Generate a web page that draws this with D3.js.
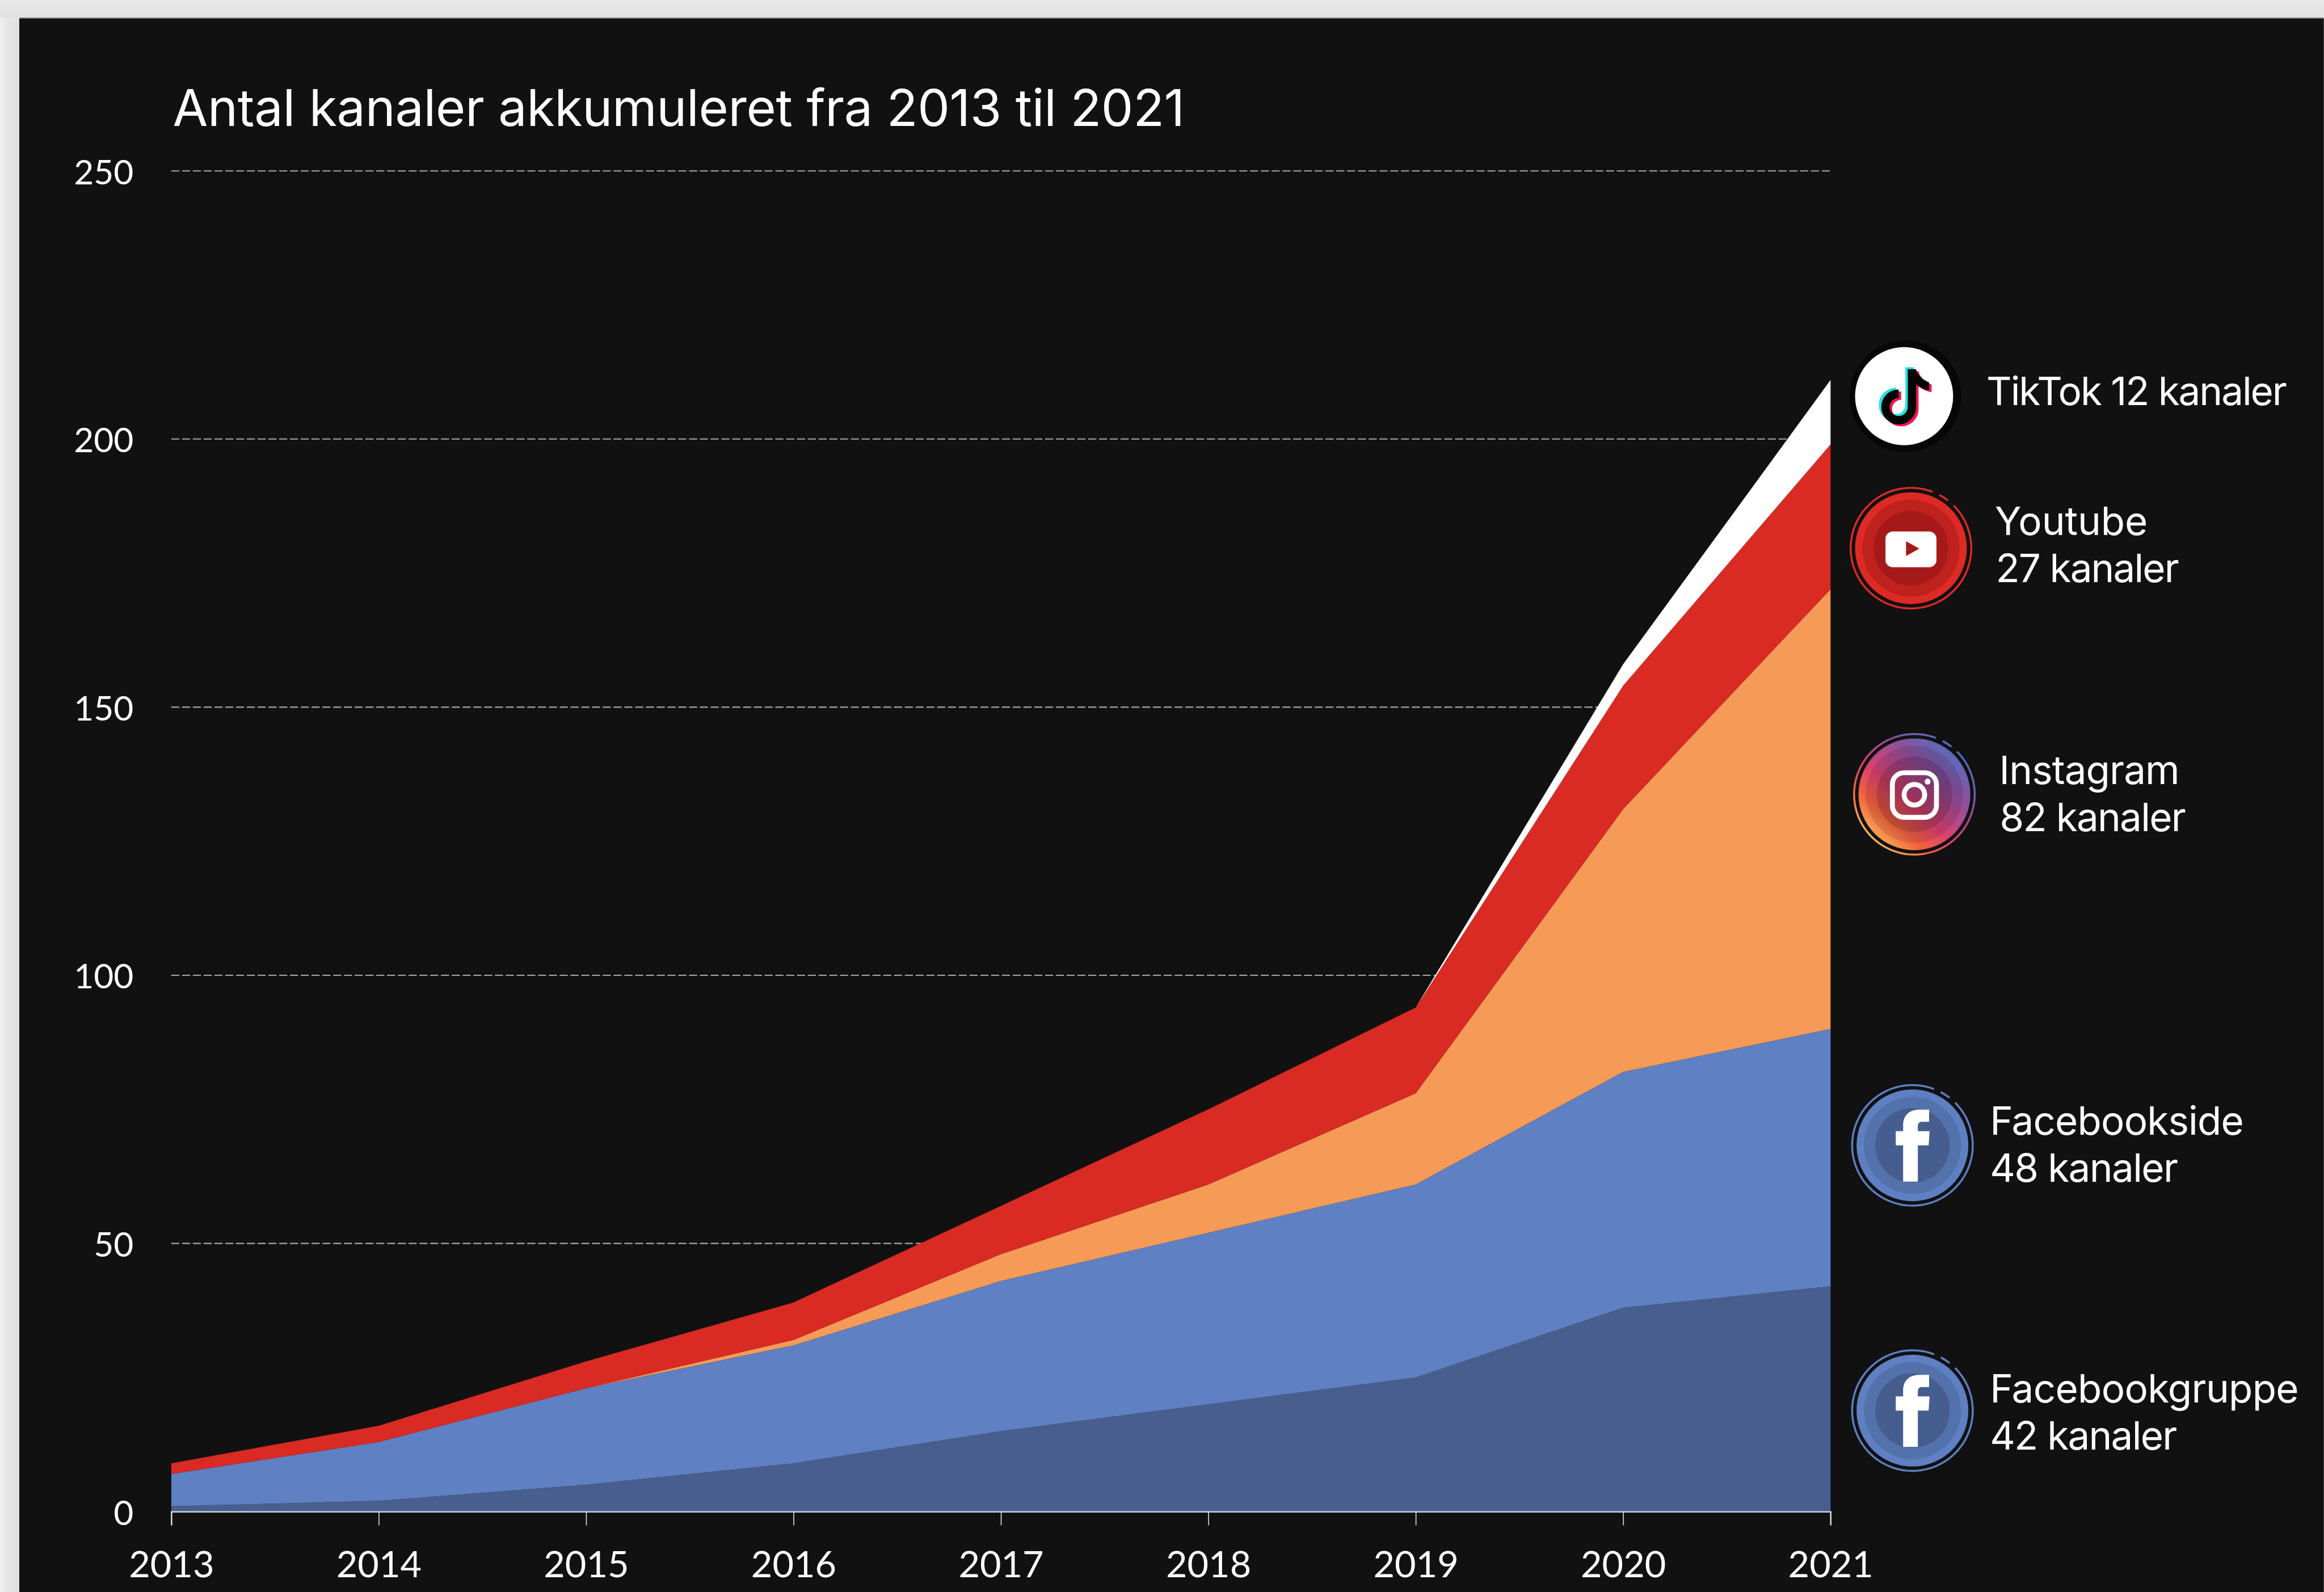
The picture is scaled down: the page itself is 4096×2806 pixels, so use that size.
<!DOCTYPE html>
<html lang="da">
<head>
<meta charset="utf-8">
<title>Antal kanaler akkumuleret fra 2013 til 2021</title>
<script src="https://cdn.jsdelivr.net/npm/d3@7/dist/d3.min.js"></script>
<style>
  html, body { margin: 0; padding: 0; background: #e6e6e6; overflow: hidden; }
  svg { display: block; }
  .label { font-family: "Inter", "Noto Sans", sans-serif; font-weight: 400; fill: #fff; }
  .tick text { font-family: "Lato", "Open Sans", sans-serif; fill: #fff; }
</style>
</head>
<body>
<svg id="chart"></svg>
<script>
// Yearly channel counts per platform, stacked from the bottom up.
const years = [2013, 2014, 2015, 2016, 2017, 2018, 2019, 2020, 2021];
const facebookgruppe = [1, 2, 5, 9, 15, 20, 25, 38, 42];
const facebookside = [6, 11, 18, 22, 28, 32, 36, 44, 48];
const instagram = [0, 0, 0, 1, 5, 9, 17, 49, 82];
const youtube = [2, 3, 5, 7, 9, 14, 16, 23, 27];
const tiktok = [0, 0, 0, 0, 0, 0, 0, 4, 12];
const yTicks = [0, 50, 100, 150, 200, 250];
const seriesNames = ["Facebookgruppe", "Facebookside", "Instagram", "Youtube", "TikTok"];
const seriesValues = [facebookgruppe, facebookside, instagram, youtube, tiktok];
const seriesColors = ["#475e8e", "#5f80c2", "#f59b57", "#da2a24", "#ffffff"];
const titleText = "Antal kanaler akkumuleret fra 2013 til 2021";

// The drawing is laid out on a 4739 x 3247 canvas and scaled into the window.
const W = 4739, H = 3247;
const svg = d3.select("#chart")
  .attr("width", 4096).attr("height", 2806)
  .attr("viewBox", `0 0 ${W} ${H}`);

const defs = svg.append("defs");
const sideShade = defs.append("linearGradient").attr("id", "sideShade");
sideShade.append("stop").attr("offset", 0).attr("stop-color", "#f1f1f1");
sideShade.append("stop").attr("offset", 0.3).attr("stop-color", "#e7e7e7");
sideShade.append("stop").attr("offset", 1).attr("stop-color", "#dfdfdf");
const topShade = defs.append("linearGradient").attr("id", "topShade")
  .attr("x1", 0).attr("x2", 0).attr("y1", 0).attr("y2", 1);
topShade.append("stop").attr("offset", 0).attr("stop-color", "#e8e8e8");
topShade.append("stop").attr("offset", 1).attr("stop-color", "#e1e1e1");

// Page surround and dark panel
svg.append("rect").attr("width", W).attr("height", H).attr("fill", "#e6e6e6");
svg.append("rect").attr("width", W).attr("height", 37).attr("fill", "url(#topShade)");
svg.append("rect").attr("y", 37).attr("width", 39).attr("height", H - 37).attr("fill", "url(#sideShade)");
svg.append("rect").attr("x", 39).attr("y", 36).attr("width", W - 39).attr("height", 2).attr("fill", "#6a6a6a");
svg.append("rect").attr("x", 39).attr("y", 38).attr("width", W - 39).attr("height", H - 38).attr("fill", "#111111");

// Scales
const x = d3.scaleLinear().domain([2013, 2021]).range([349, 3733]);
const y = d3.scaleLinear().domain([0, 250]).range([3083, 348.5]);

// Horizontal dashed gridlines with the value labels
const yAxis = svg.append("g")
  .attr("transform", `translate(${x(2013)},0)`)
  .call(d3.axisLeft(y).tickValues(yTicks).tickSize(0).tickPadding(77));
yAxis.select(".domain").remove();
yAxis.selectAll("text").attr("font-size", 70).attr("dy", "0.38em");
svg.append("g").selectAll("line")
  .data(yTicks.filter(d => d > 0))
  .join("line")
  .attr("x1", x(2013)).attr("x2", x(2021))
  .attr("y1", d => y(d)).attr("y2", d => y(d))
  .attr("stroke", "#a8a8a8").attr("stroke-width", 2.4)
  .attr("stroke-dasharray", "16.5 5.5");

// Stacked areas
const rows = years.map((year, i) => {
  const row = { year };
  seriesNames.forEach((name, k) => { row[name] = seriesValues[k][i]; });
  return row;
});
const stacked = d3.stack().keys(seriesNames)(rows);
const area = d3.area().x(d => x(d.data.year)).y0(d => y(d[0])).y1(d => y(d[1]));
svg.append("g").selectAll("path")
  .data(stacked)
  .join("path")
  .attr("d", area)
  .attr("fill", (d, i) => seriesColors[i]);

// Year axis
const xAxis = svg.append("g")
  .attr("transform", `translate(0,${y(0)})`)
  .call(d3.axisBottom(x).tickValues(years).tickFormat(d3.format("d")).tickSize(28).tickPadding(53));
xAxis.select(".domain").attr("stroke", "#c9d0de").attr("stroke-width", 3);
xAxis.selectAll(".tick line").attr("stroke", "#d4d4d4").attr("stroke-width", 2);
xAxis.selectAll("text").attr("font-size", 75);

// Title
svg.append("text").attr("class", "label")
  .attr("x", 352).attr("y", 257)
  .attr("font-size", 104)
  .attr("textLength", 2064).attr("lengthAdjust", "spacing")
  .text(titleText);

// Rings around the round platform badges: a long arc, then a short dash
const ringArc = d3.arc().innerRadius(121).outerRadius(125);
const rad = Math.PI / 180;
function ring(g, stroke) {
  [[45, 381], [28, 38]].forEach(([a, b]) => {
    g.append("path")
      .attr("d", ringArc({ startAngle: a * rad, endAngle: b * rad }))
      .attr("fill", stroke);
  });
}
function discs(g, c1, c2, c3) {
  g.append("circle").attr("r", 114).attr("fill", c1);
  g.append("circle").attr("r", 99).attr("fill", c2);
  g.append("circle").attr("r", 76).attr("fill", c3);
}
function facebookMark(g) {
  g.append("path")
    .attr("d", "M-19,74 V0 H-34 V-29 H-19 V-41 C-19,-63 -4,-73 14,-73 H34 V-48 H20 C14,-48 11,-45 11,-39 V-29 H35 L33,0 H11 V74 Z")
    .attr("fill", "#fff");
}

// TikTok badge
const tikG = svg.append("g").attr("transform", "translate(3886,808)");
tikG.append("circle").attr("r", 114).attr("fill", "#070707");
tikG.append("circle").attr("cx", -3).attr("r", 100).attr("fill", "#fff");
function note(g, dx, dy, colour) {
  const n = g.append("g").attr("transform", `translate(${dx},${dy})`);
  n.append("path")
    .attr("d", "M13,-55 V22 A27,27 0 1 1 -14,-5")
    .attr("fill", "none").attr("stroke", colour).attr("stroke-width", 17);
  n.append("path")
    .attr("d", "M21,-55 C25,-42 36,-32 48,-28 V-12 C36,-14 27,-19 21,-25 Z")
    .attr("fill", colour);
}
note(tikG, -5, -4, "#25e0e3");
note(tikG, 5, 4, "#f2134f");
note(tikG, 0, 0, "#050505");

// YouTube badge
const ytG = svg.append("g").attr("transform", "translate(3897,1118)");
ring(ytG, "#de2a24");
discs(ytG, "#de2a24", "#bf211c", "#a51a18");
ytG.append("rect").attr("x", -52).attr("y", -34).attr("width", 104).attr("height", 73)
  .attr("rx", 15).attr("fill", "#fff");
ytG.append("path").attr("d", "M-10,-14 L17,1 L-10,16 Z").attr("fill", "#a51a18");

// Instagram badge
const igGrad = defs.append("linearGradient").attr("id", "igGrad")
  .attr("gradientUnits", "userSpaceOnUse")
  .attr("x1", -85).attr("y1", 95).attr("x2", 85).attr("y2", -95);
[[0, "#fbb45a"], [0.22, "#f2603f"], [0.42, "#d9416f"], [0.72, "#8f4f9c"], [1, "#4f70c2"]]
  .forEach(([o, c]) => igGrad.append("stop").attr("offset", o).attr("stop-color", c));
const igG = svg.append("g").attr("transform", "translate(3904,1620)");
ring(igG, "url(#igGrad)");
igG.append("circle").attr("r", 114).attr("fill", "url(#igGrad)");
igG.append("circle").attr("r", 99).attr("fill", "#000").attr("fill-opacity", 0.1);
igG.append("circle").attr("r", 77).attr("fill", "#000").attr("fill-opacity", 0.14);
igG.append("rect").attr("x", -45).attr("y", -44).attr("width", 90).attr("height", 91)
  .attr("rx", 24).attr("fill", "none").attr("stroke", "#fff").attr("stroke-width", 10);
igG.append("circle").attr("cy", 1).attr("r", 21).attr("fill", "none").attr("stroke", "#fff").attr("stroke-width", 10);
igG.append("circle").attr("cx", 27).attr("cy", -26).attr("r", 6).attr("fill", "#fff");

// Facebook badges
[2336, 2877].forEach(cy => {
  const g = svg.append("g").attr("transform", `translate(3900,${cy})`);
  ring(g, "#5e80c3");
  discs(g, "#5e80c3", "#5371ab", "#465d90");
  facebookMark(g);
});

// Platform labels, each ending in the platform's 2021 count
const total = name => seriesValues[seriesNames.indexOf(name)][years.length - 1];
const labelSize = 80;
function label(text, px, py, wide) {
  svg.append("text").attr("class", "label")
    .attr("x", px).attr("y", py)
    .attr("font-size", labelSize)
    .attr("textLength", wide).attr("lengthAdjust", "spacing")
    .text(text);
}
label(`TikTok ${total("TikTok")} kanaler`, 4051, 826, 613);
label("Youtube", 4068, 1091, 312);
label(`${total("Youtube")} kanaler`, 4070, 1187, 374);
label("Instagram", 4077, 1599, 368);
label(`${total("Instagram")} kanaler`, 4078, 1695, 380);
label("Facebookside", 4058, 2314, 518);
label(`${total("Facebookside")} kanaler`, 4058, 2410, 384);
label("Facebookgruppe", 4058, 2860, 630);
label(`${total("Facebookgruppe")} kanaler`, 4058, 2956, 382);
</script>
</body>
</html>
